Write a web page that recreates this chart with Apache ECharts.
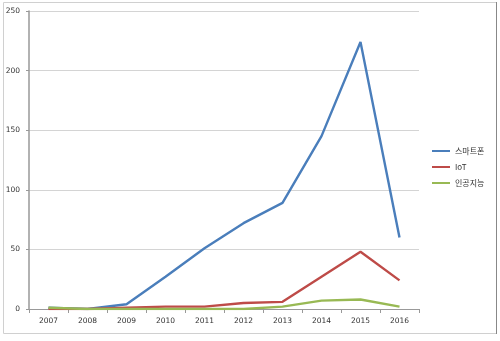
<!DOCTYPE html>
<html><head><meta charset="utf-8">
<script src="https://cdn.jsdelivr.net/npm/echarts@6/dist/echarts.min.js"></script>
<style>html,body{margin:0;padding:0;background:#fff}#c{width:500px;height:341px}</style>
</head><body><div id="c"></div>
<script>
const years = ['2007','2008','2009','2010','2011','2012','2013','2014','2015','2016'];
const smartphone = [1, 0, 4, 27, 51, 72, 89, 145, 224, 60];
const iot = [0, 0, 1, 2, 2, 5, 6, 27, 48, 24];
const ai = [1, 0, 0, 0, 0, 0, 2, 7, 8, 2];
const seriesNames = ['스마트폰', 'IoT', '인공지능'];
const colors = ['#4A7EBB', '#BE4B48', '#98B954'];
const chart = echarts.init(document.getElementById('c'));
const mk = (name, data, color) => ({
  name, type: 'line', data, symbol: 'none', smooth: false,
  lineStyle: {width: 2.4, color}, itemStyle: {color}
});
chart.setOption({
  animation: false,
  graphic: [{type: 'rect', shape: {x: 3.5, y: 2.5, width: 493, height: 331},
    style: {fill: 'none', stroke: '#d0d0d0', lineWidth: 1}, silent: true},
    {type: 'line', shape: {x1: 496.5, y1: 2, x2: 496.5, y2: 334},
    style: {stroke: '#888', lineWidth: 1}, silent: true}],
  grid: {left: 29, right: 81, top: 11, bottom: 32, containLabel: false},
  legend: {
    orient: 'vertical', left: 432, top: 146, itemGap: 6, padding: 0,
    itemWidth: 18, itemHeight: 2, icon: 'rect',
    textStyle: {fontSize: 8, lineHeight: 10, color: '#333', fontFamily: 'Noto Sans CJK KR'},
    data: seriesNames
  },
  xAxis: {
    type: 'category', data: years, boundaryGap: true,
    axisLine: {lineStyle: {color: '#999'}},
    axisTick: {show: true, length: 4, interval: 0, lineStyle: {color: '#999'}},
    axisLabel: {fontSize: 7.5, color: '#333', margin: 8, fontFamily: 'DejaVu Sans'}
  },
  yAxis: {
    type: 'value', min: 0, max: 250, interval: 50,
    axisLine: {show: true, lineStyle: {color: '#999', width: 1.5}},
    axisTick: {show: true, length: 3, lineStyle: {color: '#999'}},
    splitLine: {lineStyle: {color: '#d4d4d4'}},
    axisLabel: {fontSize: 7.5, color: '#333', margin: 9, fontFamily: 'DejaVu Sans'}
  },
  series: [mk(seriesNames[0], smartphone, colors[0]), mk(seriesNames[1], iot, colors[1]), mk(seriesNames[2], ai, colors[2])]
});
</script></body></html>
